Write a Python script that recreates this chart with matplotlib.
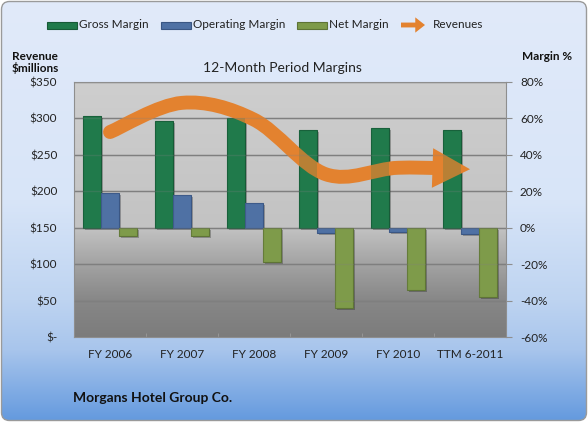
import numpy as np
import matplotlib
matplotlib.use('Agg')
import matplotlib.pyplot as plt
from matplotlib.path import Path
from matplotlib.patches import PathPatch, FancyArrowPatch, ArrowStyle, Rectangle, FancyBboxPatch
import matplotlib.patheffects as pe

plt.rcParams['font.family'] = ['Lato', 'DejaVu Sans']

# ---------------- data ----------------
categories = ['FY 2006', 'FY 2007', 'FY 2008', 'FY 2009', 'FY 2010', 'TTM 6-2011']
gross_margin = [61.4, 58.3, 60.0, 53.7, 54.8, 53.7]
operating_margin = [19.2, 17.7, 13.7, -3.1, -2.5, -3.6]
net_margin = [-4.4, -4.4, -18.8, -44.2, -34.2, -38.2]
revenues = [281, 321, 298, 223, 232, 230]

rev_ticks = [0, 50, 100, 150, 200, 250, 300, 350]
rev_labels = ['$-', '$50', '$100', '$150', '$200', '$250', '$300', '$350']
margin_ticks = [-60, -40, -20, 0, 20, 40, 60, 80]
margin_labels = ['-60%', '-40%', '-20%', '0%', '20%', '40%', '60%', '80%']

series_names = ['Gross Margin', 'Operating Margin', 'Net Margin', 'Revenues']

# ---------------- style ----------------
C_GROSS, E_GROSS = '#207A4B', '#175A37'
C_OPER, E_OPER = '#4F71A4', '#3A5683'
C_NET, E_NET = '#7E9B4A', '#5E7436'
C_REV = '#E3822F'
W, H = 588, 422

fig = plt.figure(figsize=(W / 100, H / 100), dpi=100)
fig.patch.set_facecolor('white')


def vgrad(stops_pos, stops_col, n=400):
    pos = np.linspace(0, 1, n)
    cols = np.array([matplotlib.colors.to_rgb(c) for c in stops_col])
    arr = np.zeros((n, 1, 3))
    for k in range(3):
        arr[:, 0, k] = np.interp(pos, stops_pos, cols[:, k])
    return arr


# background (pixel coordinates, y downward)
bg = fig.add_axes([0, 0, 1, 1], zorder=-10)
bg.set_xlim(0, W)
bg.set_ylim(H, 0)
bg.axis('off')
bgimg = vgrad([0, 200 / H, 300 / H, 350 / H, 1.0],
              ['#E1EAFA', '#D8E5F8', '#BED4F1', '#A8C5EC', '#6399DE'])
im = bg.imshow(bgimg, extent=[0, W, H, 0], aspect='auto', interpolation='bilinear')
frame = FancyBboxPatch((1.5, 1.5), W - 3, H - 3, boxstyle='round,pad=0,rounding_size=8',
                       facecolor='none', edgecolor='#9A9A9A', lw=1)
bg.add_patch(frame)
im.set_clip_path(frame)

# main axes (margins, right side)
ax = fig.add_axes([74 / W, 1 - 337 / H, 432 / W, 255.3 / H])
x = np.arange(len(categories))
plot_grad = vgrad([0, 80 / 140, 100 / 140, 120 / 140, 1.0],
                  ['#CECECE', '#C3C3C3', '#A3A3A3', '#878787', '#7C7C7C'])
ax.imshow(plot_grad, extent=[-0.5, 5.5, -60, 80], aspect='auto', zorder=0,
          interpolation='bilinear')

bw = 0.25
shadow = [pe.SimplePatchShadow(offset=(1.5, -1.5), shadow_rgbFace='k', alpha=0.25), pe.Normal()]
for off, vals, fc, ec in [(-bw, gross_margin, C_GROSS, E_GROSS),
                          (0, operating_margin, C_OPER, E_OPER),
                          (bw, net_margin, C_NET, E_NET)]:
    bars = ax.bar(x + off, vals, bw, color=fc, edgecolor=ec, lw=0.8, zorder=3)
    for b in bars:
        b.set_path_effects(shadow)

ax.set_xlim(-0.5, 5.5)
ax.set_ylim(-60, 80)
ax.grid(axis='y', color='#7F7F7F', lw=1)
ax.set_xticks(x, categories)
ax.set_xticks(np.arange(0.5, 5.5, 1), minor=True)
ax.tick_params(axis='x', which='major', length=0, pad=9, labelsize=8.5, labelcolor='#222222')
ax.tick_params(axis='x', which='minor', direction='in', length=3, color='#9A9A9A')
for s in ax.spines.values():
    s.set_color('#8E8E8E')
    s.set_linewidth(0.8)

# revenue axis (left)
ax2 = ax.twinx()
ax2.patch.set_visible(False)
ax.yaxis.tick_right()
ax2.yaxis.tick_left()
ax.set_yticks(margin_ticks, margin_labels)
ax.tick_params(axis='y', length=4, color='#8E8E8E', pad=6, labelsize=8.5, labelcolor='#222222')
ax2.set_ylim(0, 350)
ax2.set_yticks(rev_ticks, rev_labels)
ax2.tick_params(axis='y', length=0, pad=12, labelsize=8.5, labelcolor='#222222')
for s in ax2.spines.values():
    s.set_visible(False)

# smoothed revenue line (Catmull-Rom -> cubic Bezier)
pts = np.column_stack([x.astype(float), np.array(revenues, float)])
n = len(pts)
verts = [pts[0]]
codes = [Path.MOVETO]
last = None
for i in range(n - 1):
    p0 = pts[i - 1] if i > 0 else pts[i]
    p1, p2 = pts[i], pts[i + 1]
    p3 = pts[i + 2] if i + 2 < n else pts[i + 1]
    c1 = p1 + (p2 - p0) / 6.0
    c2 = p2 - (p3 - p1) / 6.0
    if i < n - 2:
        verts += [c1, c2, p2]
        codes += [Path.CURVE4] * 3
    else:
        last = (p1, c1, c2, p2)


def split(b, t):
    a0, a1, a2, a3 = b
    q0 = a0 + (a1 - a0) * t
    q1 = a1 + (a2 - a1) * t
    q2 = a2 + (a3 - a2) * t
    r0 = q0 + (q1 - q0) * t
    r1 = q1 + (q2 - q1) * t
    s0 = r0 + (r1 - r0) * t
    return (a0, q0, r0, s0)


seg = split(last, 0.6)
verts += [seg[1], seg[2], seg[3]]
codes += [Path.CURVE4] * 3
line = PathPatch(Path(verts, codes), facecolor='none', edgecolor=C_REV, lw=10,
                 capstyle='round', joinstyle='round', zorder=3)
ax2.add_patch(line)
startA = split(last, 0.3)[3]
arrow = FancyArrowPatch(posA=tuple(startA), posB=tuple(pts[-1]),
                        arrowstyle=ArrowStyle.Simple(head_length=27, head_width=28.5, tail_width=9),
                        mutation_scale=1, shrinkA=0, shrinkB=0, color=C_REV, lw=0, zorder=3)
ax2.add_patch(arrow)

# transparency effect: bars and gridlines showing through the orange
for off, vals, fc in [(-bw, gross_margin, C_GROSS), (0, operating_margin, C_OPER), (bw, net_margin, C_NET)]:
    ax2.bar(x + off, vals, bw, color=fc, alpha=0.22, lw=0, zorder=4, transform=ax.transData)
for t in rev_ticks[1:-1]:
    ax2.axhline(t, color='#7F7F7F', lw=1, alpha=0.25, zorder=4)
ax2.set_ylim(0, 350)
ax2.set_xlim(-0.5, 5.5)

# texts
bg.text(282, 68, '12-Month Period Margins', ha='center', va='center', fontsize=10, color='#222222')
bg.text(12, 56, 'Revenue', ha='left', va='center', fontsize=8.5, fontweight='bold', color='#111111')
bg.text(12, 68.5, '$millions', ha='left', va='center', fontsize=8.5, fontweight='bold', color='#111111')
bg.text(522, 56, 'Margin %', ha='left', va='center', fontsize=8.5, fontweight='bold', color='#111111')
bg.text(73, 398, 'Morgans Hotel Group Co.', ha='left', va='center', fontsize=10,
        fontweight='bold', color='#111111')

# legend (manual)
leg_items = [(47, 79, C_GROSS, E_GROSS), (161, 193, C_OPER, E_OPER), (297, 329, C_NET, E_NET)]
for (px, tx, fc, ec), name in zip(leg_items, series_names[:3]):
    bg.add_patch(Rectangle((px, 21.5), 30, 7, facecolor=fc, edgecolor=ec, lw=0.8))
    bg.text(tx, 25, name, ha='left', va='center', fontsize=8.5, color='#222222')
bg.add_patch(FancyArrowPatch(posA=(401, 25), posB=(425, 25),
                             arrowstyle=ArrowStyle.Simple(head_length=7, head_width=11, tail_width=3.5),
                             mutation_scale=1, shrinkA=0, shrinkB=0, color=C_REV, lw=0))
bg.text(433, 25, series_names[3], ha='left', va='center', fontsize=8.5, color='#222222')

fig.savefig('out.png', dpi=100)
